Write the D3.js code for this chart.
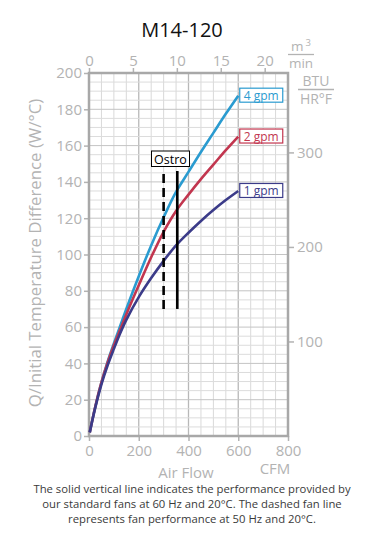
<!DOCTYPE html>
<html>
<head>
<meta charset="utf-8">
<script src="https://cdn.jsdelivr.net/npm/d3@7"></script>
<style>
  body { margin: 0; background: #fff; }
  text { font-family: "Open Sans", "Noto Sans", sans-serif; }
</style>
</head>
<body>
<svg id="chart" width="391" height="549"></svg>
<script>
// air flow (CFM) vs Q/ITD (W/°C)
const cfm = [3, 25, 50, 75, 100, 125, 150, 200, 250, 300, 350, 400, 450, 500, 550, 600];
const gpm4 = [2, 16, 29.5, 41, 51, 60.5, 70, 88, 105, 120.5, 134.5, 145.5, 156.5, 167, 177.5, 187.5];
const gpm2 = [2, 16, 29.5, 40.5, 50, 58.5, 67, 83, 98.5, 112.5, 124, 133, 141.5, 149.5, 157.5, 165];
const gpm1 = [2, 15.5, 28.5, 39, 48, 56.5, 64, 76.5, 87, 96.5, 105, 112, 118.5, 124.5, 130, 135];

const seriesNames = ["4 gpm", "2 gpm", "1 gpm"];
const seriesColors = ["#2a9bd0", "#c2364f", "#3b3b89"];

const cfmTicks = [0, 200, 400, 600, 800];
const qTicks = [0, 20, 40, 60, 80, 100, 120, 140, 160, 180, 200];
const m3Ticks = [0, 5, 10, 15, 20];
const btuTicks = [100, 200, 300];

// fan lines: 60 Hz solid, 50 Hz dashed
const fanCfm = [355, 300];
const fanTop = [146, 145];
const fanBottom = 70;

const svg = d3.select("#chart");
const pL = 89, pR = 288, pT = 73, pB = 436;

const x = d3.scaleLinear().domain([0, 800]).range([pL, pR]);
const y = d3.scaleLinear().domain([0, 200]).range([pB, pT]);
const xm3 = d3.scaleLinear().domain([0, 800 / 35.3147]).range([pL, pR]);
const ybtu = d3.scaleLinear().domain([0, 200 * 1.92]).range([pB, pT]);

const gray = "#b3b3b3";

// grid
const g = svg.append("g");
g.selectAll(".vx").data(d3.range(50, 800, 50)).join("line")
  .attr("x1", d => x(d)).attr("x2", d => x(d))
  .attr("y1", pT).attr("y2", pB)
  .attr("stroke", d => d % 200 === 0 ? "#b8b8b8" : "#d9d9d9")
  .attr("stroke-width", d => d % 200 === 0 ? 1.3 : 1);
g.selectAll(".hy").data(d3.range(5, 200, 5)).join("line")
  .attr("y1", d => y(d)).attr("y2", d => y(d))
  .attr("x1", pL).attr("x2", pR)
  .attr("stroke", d => d % 20 === 0 ? "#c4c4c4" : "#dcdcdc")
  .attr("stroke-width", 1);

// axes
const axisStyle = sel => {
  sel.select(".domain").remove();
  sel.selectAll("line").attr("stroke", gray).attr("stroke-width", 1.5);
  sel.selectAll("text").attr("fill", gray).style("font-size", "15px");
};
svg.append("g").attr("transform", `translate(${pL},0)`)
  .call(d3.axisLeft(y).tickValues(qTicks).tickSize(5).tickPadding(2))
  .call(axisStyle);
svg.append("g").attr("transform", `translate(0,${pB})`)
  .call(d3.axisBottom(x).tickValues(cfmTicks).tickSize(5).tickPadding(4))
  .call(axisStyle);
svg.append("g").attr("transform", `translate(0,${pT})`)
  .call(d3.axisTop(xm3).tickValues(m3Ticks).tickSize(5).tickPadding(2))
  .call(axisStyle);
svg.append("g").attr("transform", `translate(${pR},0)`)
  .call(d3.axisRight(ybtu).tickValues(btuTicks).tickSize(6).tickPadding(3))
  .call(axisStyle);

// frame
svg.append("rect")
  .attr("x", pL).attr("y", pT)
  .attr("width", pR - pL).attr("height", pB - pT)
  .attr("fill", "none").attr("stroke", "#a8a8a8").attr("stroke-width", 2.5);

// curves
const series = [gpm4, gpm2, gpm1].map(s => cfm.map((c, i) => [c, s[i]]));
const line = d3.line().x(d => x(d[0])).y(d => y(d[1])).curve(d3.curveCatmullRom);
svg.append("g").selectAll("path").data(series).join("path")
  .attr("d", line)
  .attr("fill", "none")
  .attr("stroke", (d, i) => seriesColors[i])
  .attr("stroke-width", 2.6);

// series labels
const lab = svg.append("g").selectAll("g").data(series).join("g")
  .attr("transform", d => `translate(${x(d[d.length - 1][0]) + 1.5},${y(d[d.length - 1][1])})`);
lab.append("rect")
  .attr("x", 0).attr("y", -7.5).attr("width", 43).attr("height", 14)
  .attr("fill", "#fff")
  .attr("stroke", (d, i) => seriesColors[i]).attr("stroke-width", 1.2);
lab.append("text")
  .attr("x", 21.5).attr("y", 4.5).attr("text-anchor", "middle")
  .attr("fill", (d, i) => seriesColors[i])
  .style("font-size", "12px")
  .text((d, i) => seriesNames[i]);

// fan lines
svg.append("g").selectAll("line").data(fanCfm).join("line")
  .attr("x1", d => x(d)).attr("x2", d => x(d))
  .attr("y1", y(fanBottom)).attr("y2", (d, i) => y(fanTop[i]))
  .attr("stroke", "#000").attr("stroke-width", 2.6)
  .attr("stroke-dasharray", (d, i) => i === 1 ? "9,5" : null);
svg.append("rect")
  .attr("x", 151.5).attr("y", 151).attr("width", 38).attr("height", 15.5)
  .attr("fill", "#fff").attr("stroke", "#000").attr("stroke-width", 1);
svg.append("text")
  .attr("x", 170.5).attr("y", 163.5).attr("text-anchor", "middle")
  .attr("fill", "#000").style("font-size", "12.5px").text("Ostro");

// titles
svg.append("text").attr("x", 182).attr("y", 37).attr("text-anchor", "middle")
  .attr("fill", "#111").style("font-size", "20px").text("M14-120");

svg.append("text")
  .attr("transform", `translate(41,253) rotate(-90)`)
  .attr("text-anchor", "middle").attr("fill", gray)
  .style("font-size", "16.8px")
  .text("Q/Initial Temperature Difference (W/°C)");

svg.append("text").attr("x", 186).attr("y", 478).attr("text-anchor", "middle")
  .attr("fill", gray).style("font-size", "15px").text("Air Flow");
svg.append("text").attr("x", 275).attr("y", 474).attr("text-anchor", "middle")
  .attr("fill", gray).style("font-size", "15px").text("CFM");

// unit fractions
const frac = (cx, yTop, yBot, lineY, w, size, topTxt, botTxt) => {
  const t = svg.append("text").attr("x", cx).attr("y", yTop).attr("text-anchor", "middle")
    .attr("fill", gray).style("font-size", size + "px");
  t.append("tspan").text(topTxt[0]);
  if (topTxt[1]) t.append("tspan").attr("dx", 2).attr("dy", -5).style("font-size", "9.5px").text(topTxt[1]);
  svg.append("line").attr("x1", cx - w / 2).attr("x2", cx + w / 2)
    .attr("y1", lineY).attr("y2", lineY).attr("stroke", gray).attr("stroke-width", 1.3);
  svg.append("text").attr("x", cx).attr("y", yBot).attr("text-anchor", "middle")
    .attr("fill", gray).style("font-size", size + "px").text(botTxt);
};
frac(301, 50.5, 67.5, 54.5, 26, 13.5, ["m", "3"], "min");
frac(316, 86, 104, 89.5, 36, 14, ["BTU"], "HR°F");

// caption
const caption = [
  "The solid vertical line indicates the performance provided by",
  "our standard fans at 60 Hz and 20°C. The dashed fan line",
  "represents fan performance at 50 Hz and 20°C."
];
svg.append("g").selectAll("text").data(caption).join("text")
  .attr("x", 192).attr("y", (d, i) => 493 + i * 15)
  .attr("text-anchor", "middle").attr("fill", "#3a3a3a")
  .style("font-size", "11.3px")
  .text(d => d);
</script>
</body>
</html>
